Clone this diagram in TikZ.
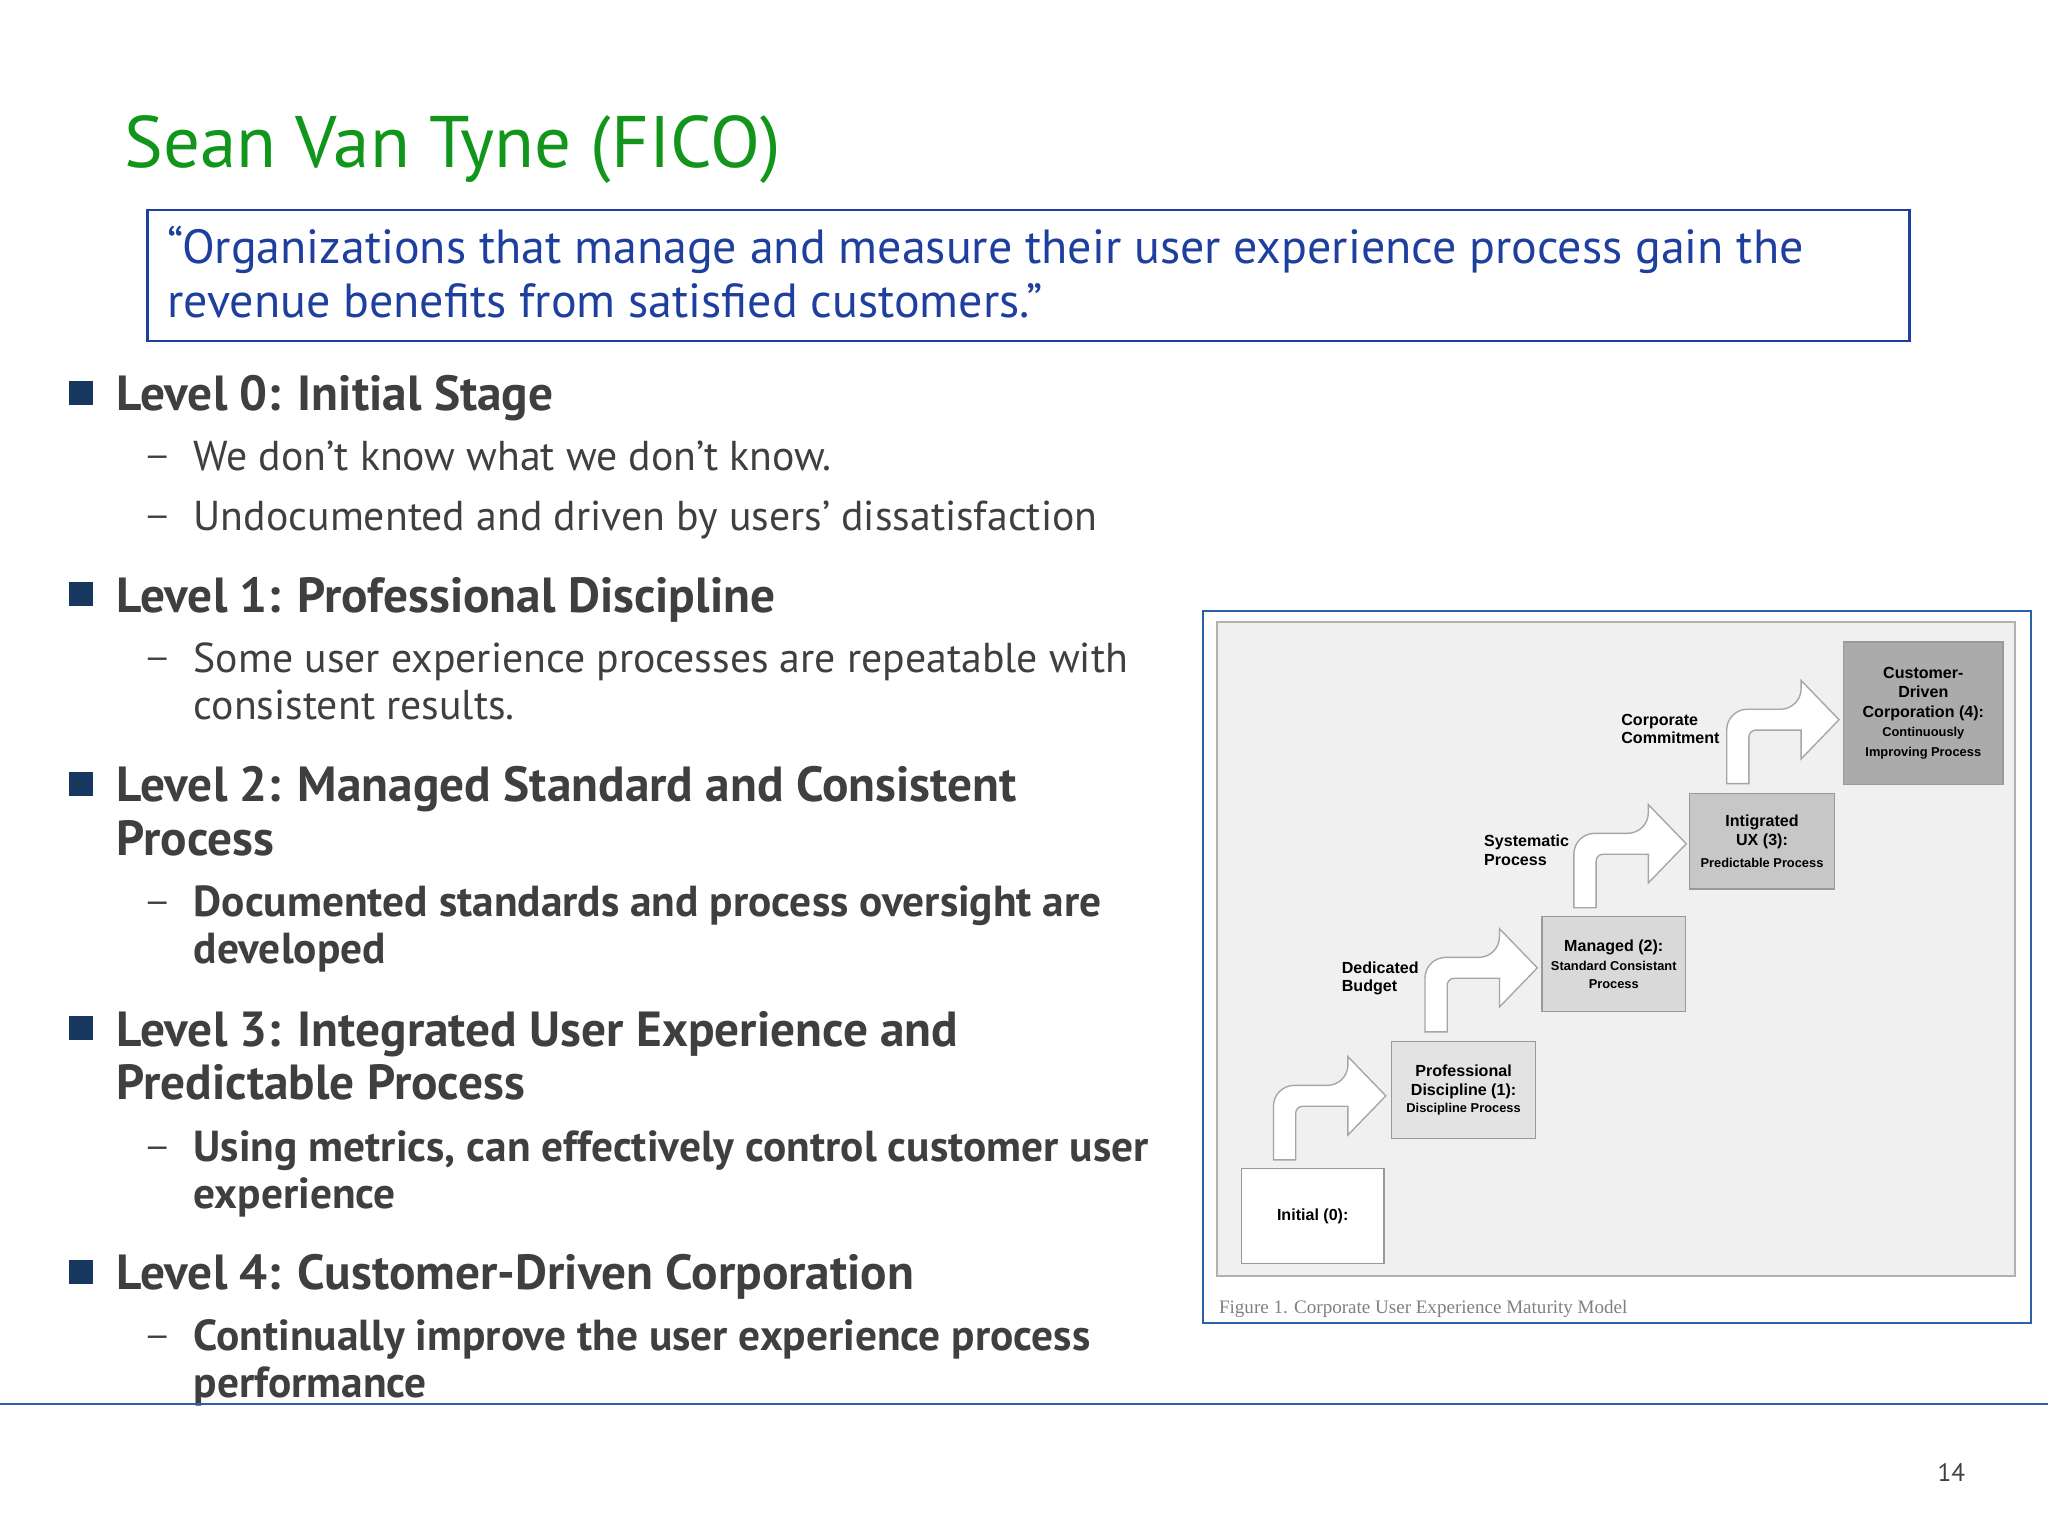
\documentclass[tikz,border=0pt]{standalone}
\usepackage{fontspec}
\setmainfont{PT Sans}
\newfontfamily\figfont{Liberation Sans}
\newfontfamily\capfont{Liberation Serif}
\definecolor{ttlgreen}{HTML}{11961B}
\definecolor{qblue}{HTML}{1F3F9F}
\definecolor{frblue}{HTML}{2A62A8}
\definecolor{txtgray}{HTML}{3F3F3F}
\definecolor{sqblue}{HTML}{17375E}
\tikzset{
  head/.style={anchor=base west,font=\fontsize{21.5}{21.5}\selectfont\bfseries,text=txtgray,inner sep=0pt},
  sub/.style={anchor=base west,font=\fontsize{18.2}{18.2}\selectfont,text=txtgray,inner sep=0pt},
  subb/.style={sub,font=\fontsize{18.9}{18.9}\selectfont\bfseries},
  sq/.style={fill=sqblue,draw=none,minimum size=10.5pt,inner sep=0pt},
  lvl/.style={draw=gray!80,line width=0.6pt,inner sep=0pt,align=center,font=\figfont\bfseries\fontsize{7}{8.5}\selectfont},
  lab/.style={anchor=west,align=left,inner sep=0pt,font=\figfont\bfseries\fontsize{7}{8}\selectfont},
  arr/.style={fill=white,draw=gray!70,line width=0.6pt}
}
\newcommand{\sm}{\fontsize{5.6}{8}\selectfont}
\begin{document}
\begin{tikzpicture}[x=0.02cm,y=-0.02cm]
\useasboundingbox (0,0) rectangle (1568,1176);
\fill[white] (0,0) rectangle (1568,1176);
% title
\node[anchor=base west,inner sep=0pt,text=ttlgreen,font=\fontsize{31.8}{31.8}\selectfont] (title) at (95,128) {Sean Van Tyne (FICO)};
% quote
\node[draw=qblue,line width=1pt,minimum width=1349*0.02cm,minimum height=100*0.02cm,anchor=north west] (qbox) at (112,160) {};
\node[anchor=base west,inner sep=0pt,text=qblue,font=\fontsize{20.9}{20.9}\selectfont] (q1) at (128,202) {“Organizations that manage and measure their user experience process gain the};
\node[anchor=base west,inner sep=0pt,text=qblue,font=\fontsize{20.9}{20.9}\selectfont] (q2) at (128,243) {revenue benefits from satisfied customers.”};
% bullets
\foreach \y/\n in {301/a,455/b,600/c,787/d,974/e}{\node[sq] (sq\n) at (62,\y) {};}
\node[head] (h0) at (89,314) {Level 0: Initial Stage};
\node[head] (h1) at (89,469) {Level 1: Professional Discipline};
\node[head] (h2) at (89,614) {Level 2: Managed Standard and Consistent};
\node[head] (h2b) at (89,655) {Process};
\node[head] (h3) at (89,801) {Level 3: Integrated User Experience and};
\node[head] (h3b) at (89,842) {Predictable Process};
\node[head] (h4) at (89,987) {Level 4: Customer-Driven Corporation};
\foreach \y/\n in {360/a,406/b,515/c,702/d,889/e,1034/f}{\node[sub,font=\fontsize{14}{14}\selectfont] (d\n) at (110,\y-3) {—};}
\node[sub] (s0a) at (148,360) {We don’t know what we don’t know.};
\node[sub] (s0b) at (148,406) {Undocumented and driven by users’ dissatisfaction};
\node[sub] (s1a) at (148,515) {Some user experience processes are repeatable with};
\node[sub] (s1b) at (148,551) {consistent results.};
\node[subb] (s2a) at (148,702) {Documented standards and process oversight are};
\node[subb] (s2b) at (148,738) {developed};
\node[subb] (s3a) at (148,889) {Using metrics, can effectively control customer user};
\node[subb] (s3b) at (148,925) {experience};
\node[subb] (s4a) at (148,1034) {Continually improve the user experience process};
\node[subb] (s4b) at (148,1070) {performance};
% bottom rule & page number
\draw[frblue,line width=1pt] (0,1075) -- (1568,1075);
\node[anchor=base,inner sep=0pt,text=txtgray,font=\fontsize{11}{11}\selectfont] (pg) at (1494,1134) {14};
% figure
\draw[frblue,line width=1pt] (921,468) rectangle (1555,1013);
\draw[gray!60,fill=black!6,line width=0.8pt] (932,476) rectangle (1543,977);
\node[anchor=base west,inner sep=0pt,text=gray,font=\capfont\fontsize{8.3}{8.3}\selectfont] (cap) at (933,1006) {Figure 1. Corporate User Experience Maturity Model};
% arrows
\foreach \x/\y in {975/888,1091/790,1205/695,1322/600}{
\begin{scope}[shift={(\x,\y)}]
\draw[arr] (0,0) [rounded corners=9pt] -- (0,-57) -- (57,-57) [sharp corners] -- (57,-79) -- (86,-49) -- (57,-19) -- (57,-41) [rounded corners=3pt] -- (17,-41) [sharp corners] -- (17,0) -- cycle;
\end{scope}}
% boxes
\node[lvl,fill=white,minimum width=109*0.02cm,minimum height=73*0.02cm,anchor=north west] (l0) at (950,894) {Initial (0):};
\node[lvl,fill=black!11,minimum width=110*0.02cm,minimum height=74*0.02cm,anchor=north west] (l1) at (1065,797) {Professional\\Discipline (1):\\[-1pt]{\sm Discipline Process}};
\node[lvl,fill=black!15,minimum width=110*0.02cm,minimum height=73*0.02cm,anchor=north west] (l2) at (1180,701) {Managed (2):\\[0pt]{\sm Standard Consistant}\\[-1pt]{\sm Process}};
\node[lvl,fill=black!22,minimum width=111*0.02cm,minimum height=73*0.02cm,anchor=north west] (l3) at (1293,607) {Intigrated\\UX (3):\\[1pt]{\sm Predictable Process}};
\node[lvl,fill=black!33,minimum width=122*0.02cm,minimum height=109*0.02cm,anchor=north west] (l4) at (1411,491) {Customer-\\Driven\\Corporation (4):\\[0pt]{\sm Continuously}\\[0pt]{\sm Improving Process}};
% labels
\node[lab] (lb1) at (1027,749) {Dedicated\\Budget};
\node[lab] (lb2) at (1136,651) {Systematic\\Process};
\node[lab] (lb3) at (1241,558) {Corporate\\Commitment};
\end{tikzpicture}
\end{document}
